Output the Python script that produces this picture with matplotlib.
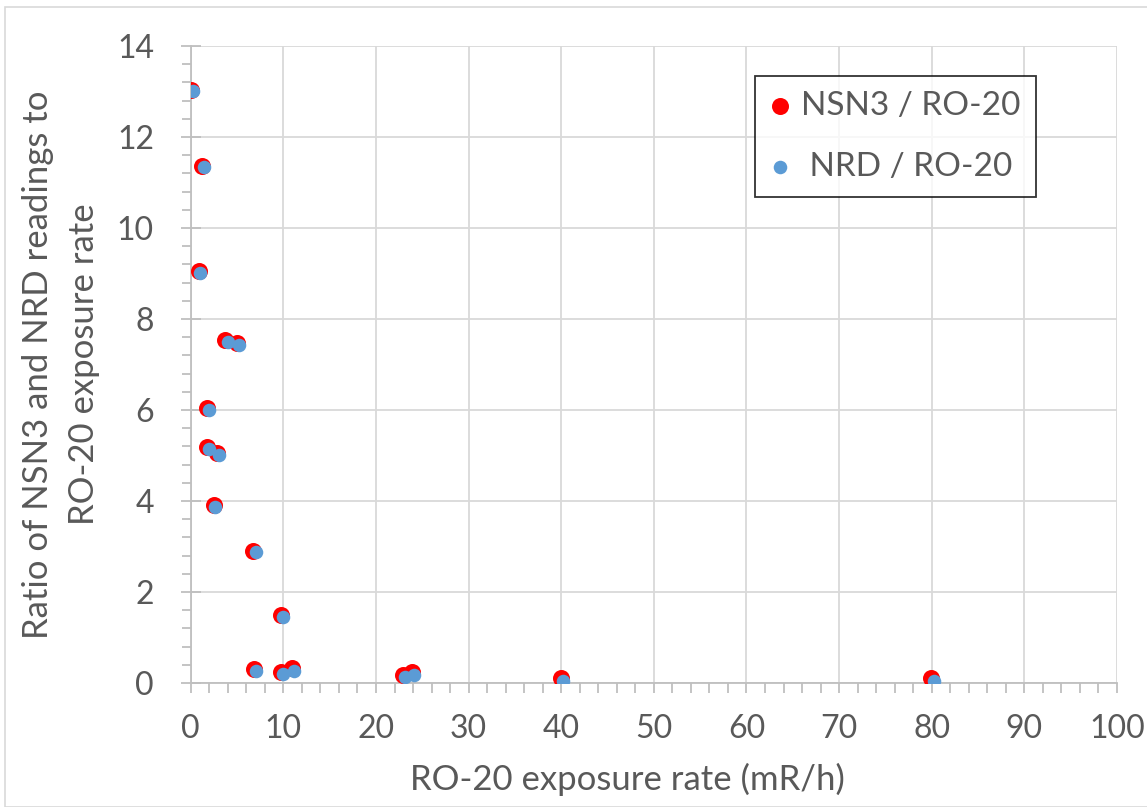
import matplotlib.pyplot as plt
from matplotlib.patches import Rectangle
from matplotlib.ticker import MultipleLocator

# RO-20 exposure rate (mR/h) and the ratio readings
nsn3_x = [0.07, 1.2, 0.85, 3.7, 5.0, 1.75, 1.75, 2.8, 2.46, 6.77, 9.76, 6.85, 9.73, 10.9, 22.9, 23.9, 39.97, 79.9]
nsn3_y = [13.03, 11.36, 9.05, 7.54, 7.47, 6.04, 5.19, 5.05, 3.91, 2.91, 1.49, 0.31, 0.23, 0.32, 0.18, 0.23, 0.12, 0.12]

nrd_x = [0.2, 1.4, 1.0, 4.0, 5.2, 2.0, 2.0, 3.0, 2.64, 7.07, 10.0, 7.07, 10.0, 11.1, 23.1, 24.1, 40.2, 80.2]
nrd_y = [13.0, 11.33, 9.02, 7.49, 7.43, 6.0, 5.14, 5.01, 3.86, 2.87, 1.46, 0.27, 0.2, 0.27, 0.13, 0.18, 0.05, 0.05]

txt = '#595959'
plt.rcParams['font.family'] = ['Lato', 'DejaVu Sans']

fig = plt.figure(figsize=(11.47, 8.07), dpi=100)
fig.patches.append(Rectangle((5 / 1147, 0), 1.2, 1 - 7 / 807, transform=fig.transFigure,
                             fill=False, edgecolor='#d9d9d9', linewidth=1.2))

ax = fig.add_axes([0.1663, 0.1537, 0.8075, 0.7893])
ax.scatter(nsn3_x, nsn3_y, s=150, color='#ff0000', label='NSN3 / RO-20', zorder=3, linewidths=0)
ax.scatter(nrd_x, nrd_y, s=95, color='#5b9bd5', label=' NRD / RO-20', zorder=4, linewidths=0)

ax.set_xlim(0, 100)
ax.set_ylim(0, 14)
ax.xaxis.set_major_locator(MultipleLocator(10))
ax.xaxis.set_minor_locator(MultipleLocator(2))
ax.yaxis.set_major_locator(MultipleLocator(2))
ax.yaxis.set_minor_locator(MultipleLocator(0.4))
ax.grid(True, which='major', color='#d9d9d9', linewidth=1.3, zorder=0)
ax.set_axisbelow(True)

for s in ['top', 'right']:
    ax.spines[s].set_visible(False)
for s in ['left', 'bottom']:
    ax.spines[s].set_color('#bfbfbf')
    ax.spines[s].set_linewidth(1.3)

ax.tick_params(axis='both', which='both', colors='#bfbfbf', width=1.3, labelcolor=txt, labelsize=23)
ax.tick_params(axis='y', which='major', direction='inout', length=15)
ax.tick_params(axis='y', which='minor', direction='out', length=6.5)
ax.tick_params(axis='x', which='both', direction='out', length=7)
ax.tick_params(axis='x', which='major', pad=15)
ax.tick_params(axis='y', which='major', pad=19)

ax.set_xlabel('RO-20 exposure rate (mR/h)', fontsize=25, color=txt, labelpad=14, x=0.472)
ax.set_ylabel('Ratio of NSN3 and NRD readings to\nRO-20 exposure rate', fontsize=25,
              color=txt, labelpad=12, linespacing=1.55)

leg = ax.legend(loc='upper left', bbox_to_anchor=(0.609, 0.953), fontsize=24, frameon=True,
                fancybox=False, edgecolor='black', handletextpad=0.35, labelspacing=0.93,
                borderpad=0.45, handlelength=0.6, borderaxespad=0, scatterpoints=1)
leg.get_frame().set_linewidth(1.3)
for t in leg.get_texts():
    t.set_color(txt)

fig.savefig('out.png', dpi=100, facecolor='white')
